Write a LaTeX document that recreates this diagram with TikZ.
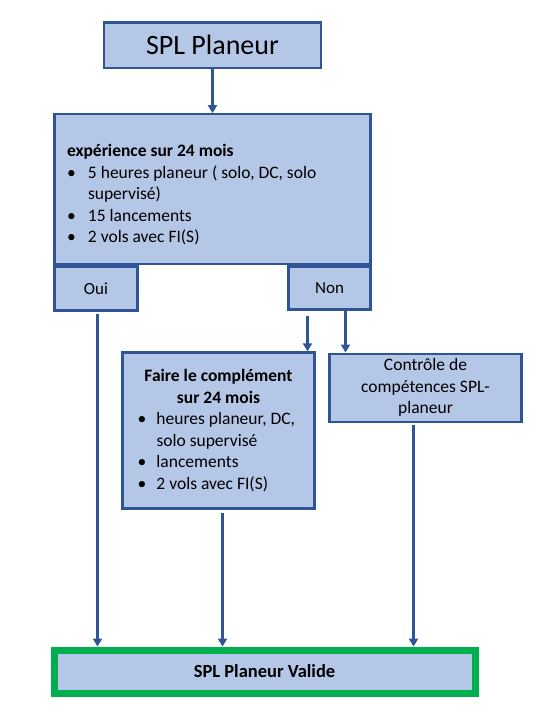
\documentclass[tikz,border=0pt]{standalone}
\usepackage{fontspec}
\setmainfont{Carlito}
\usepackage{tikz}
\usetikzlibrary{positioning, arrows.meta}

\definecolor{boxfill}{HTML}{B4C7E7}
\definecolor{boxline}{HTML}{2F5597}
\definecolor{okgreen}{HTML}{00B050}

% one line of fixed width, one bullet
\newcommand{\ligne}[2]{\makebox[#1][l]{#2}}
\newcommand{\puce}[1]{\makebox[#1][l]{\textbullet}}

\begin{document}
\begin{tikzpicture}[
        node distance=4mm and 4mm,
        base/.style={draw=boxline, fill=boxfill, line width=2.2pt, inner sep=0pt, font=\fontsize{17.5}{21.5}\selectfont},
        titre/.style={base, minimum width=217pt, minimum height=45.5pt, font=\fontsize{28}{32}\selectfont},
        bloc/.style={base, align=left, minimum width=316pt, minimum height=150pt},
        choix/.style={base, minimum width=83pt, minimum height=44pt, font=\fontsize{17}{20}\selectfont},
        etape/.style={base, align=center, minimum width=192pt},
        valide/.style={base, draw=okgreen, line width=7pt, minimum width=421pt, minimum height=43pt, font=\fontsize{18.5}{22}\selectfont\bfseries},
        arr/.style={-{Triangle[length=8pt, width=9pt]}, line width=3pt, draw=boxline}
    ]
    \useasboundingbox (0,0) rectangle (546pt,-726pt);

    \node[titre] (spl) at (212.5pt,-45.3pt) {SPL Planeur};
    \node[bloc, below=44pt of spl] (exp) {\ligne{291pt}{\textbf{expérience sur 24 mois}\rule{0pt}{23pt}}\\
        \ligne{291pt}{\puce{21pt}5 heures planeur ( solo, DC, solo}\\
        \ligne{291pt}{\hspace*{21pt}supervisé)}\\
        \ligne{291pt}{\puce{21pt}15 lancements}\\
        \ligne{291pt}{\puce{21pt}2 vols avec FI(S)}};

    \node[choix, anchor=north west] (oui) at (exp.south west) {Oui};
    \node[choix, anchor=north east, minimum width=82pt, minimum height=43pt] (non) at (exp.south east) {Non};

    \node[etape, below=86pt of exp.south, xshift=6pt, minimum height=156pt] (faire) {\textbf{Faire le complément}\\
        \textbf{sur 24 mois}\\
        \ligne{162pt}{\puce{19pt}heures planeur, DC,}\\
        \ligne{162pt}{\hspace*{19pt}solo supervisé}\\
        \ligne{162pt}{\puce{19pt}lancements}\\
        \ligne{162pt}{\puce{19pt}2 vols avec FI(S)}};
    \node[etape, below=42pt of non.south, xshift=96pt, minimum height=68pt] (ctrl) {Contrôle de\\ compétences SPL-\\ planeur};

    \node[valide, below=137pt of faire.south, xshift=46pt] (fin) {SPL Planeur Valide};

    \draw[arr] (spl) -- (exp);
    \draw[arr, shorten <=2pt] ([xshift=1.5pt]oui.south) -- ([xshift=1.5pt]oui.south |- fin.north);
    \draw[arr, shorten <=5pt] ([xshift=-22pt]non.south) -- ([xshift=-22pt]non.south |- faire.north);
    \draw[arr] ([xshift=16pt]non.south) -- ([xshift=16pt]non.south |- ctrl.north);
    \draw[arr, shorten <=3pt] ([xshift=4pt]faire.south) -- ([xshift=4pt]faire.south |- fin.north);
    \draw[arr, shorten <=2pt] ([xshift=-12pt]ctrl.south) -- ([xshift=-12pt]ctrl.south |- fin.north);
\end{tikzpicture}
\end{document}
